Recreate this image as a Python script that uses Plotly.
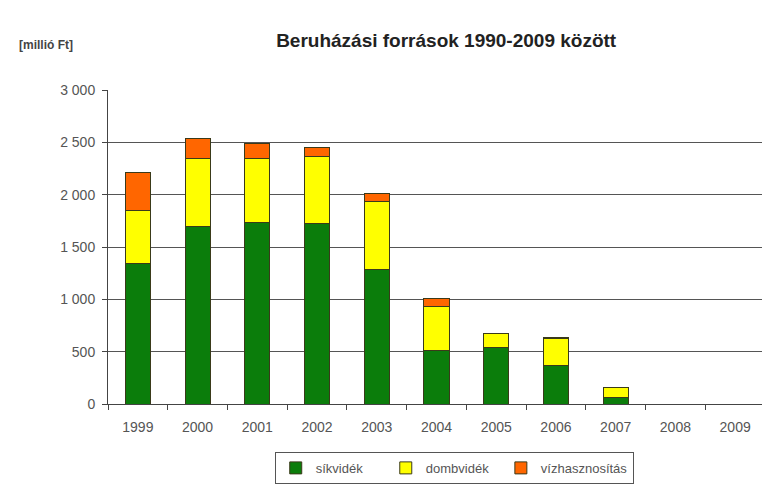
import plotly.graph_objects as go

years = ["1999", "2000", "2001", "2002", "2003", "2004", "2005", "2006", "2007", "2008", "2009"]
sikvidek = [1340, 1700, 1730, 1722, 1286, 514, 540, 369, 62, 0, 0]
dombvidek = [508, 650, 620, 643, 652, 413, 133, 258, 92, 0, 0]
vizhasznositas = [365, 190, 136, 85, 70, 85, 0, 5, 0, 0, 0]
y_ticks = [0, 500, 1000, 1500, 2000, 2500, 3000]
series_names = ["síkvidék", "dombvidék", "vízhasznosítás"]

NB = "\u00a0"
line = dict(color="#3a3a1a", width=1)
fig = go.Figure()
fig.add_trace(go.Bar(x=years, y=sikvidek, name=series_names[0] + NB * 5,
                     marker=dict(color="#0b7d0b", line=line)))
fig.add_trace(go.Bar(x=years, y=dombvidek, name=series_names[1] + NB * 2,
                     marker=dict(color="#ffff00", line=line)))
fig.add_trace(go.Bar(x=years, y=vizhasznositas, name=series_names[2],
                     marker=dict(color="#ff6600", line=line)))

fig.update_layout(
    barmode="stack",
    bargap=0.58,
    width=762, height=480,
    margin=dict(l=100, r=5, t=82, b=83),
    paper_bgcolor="white", plot_bgcolor="white",
    separators=", ",
    font=dict(family="Liberation Sans, Arial, sans-serif", size=13, color="#555555"),
    title=dict(text="<b>Beruházási források 1990-2009 között</b>", x=0.575, xanchor="center",
               y=0.933, yanchor="middle", font=dict(size=19, color="#222222")),
    showlegend=True,
    legend=dict(orientation="h", x=0.527, xanchor="center", y=-0.149, yanchor="top",
                bordercolor="#555555", borderwidth=1, font=dict(size=13, color="#555555"),
                traceorder="normal", itemwidth=30),
    annotations=[dict(text="<b>[millió Ft]</b>", xref="paper", yref="paper", x=-0.1385, y=1.143,
                      xanchor="left", yanchor="middle", showarrow=False,
                      font=dict(size=12, color="#444444"))],
)
fig.update_xaxes(showline=True, linecolor="#444444", linewidth=1, ticks="outside", ticklen=5,
                 tickcolor="#444444", tickson="boundaries", showgrid=False, ticklabelstandoff=10,
                 tickfont=dict(size=14, color="#555555"))
fig.update_yaxes(range=[0, 3000], tickvals=y_ticks, tickformat=",d", showline=True,
                 linecolor="#444444", linewidth=1, ticks="outside", ticklen=5, tickcolor="#444444",
                 showgrid=True, gridcolor="#555555", gridwidth=1, zeroline=False, ticklabelstandoff=4,
                 tickfont=dict(size=14, color="#555555"))
fig.write_html("out.html")
